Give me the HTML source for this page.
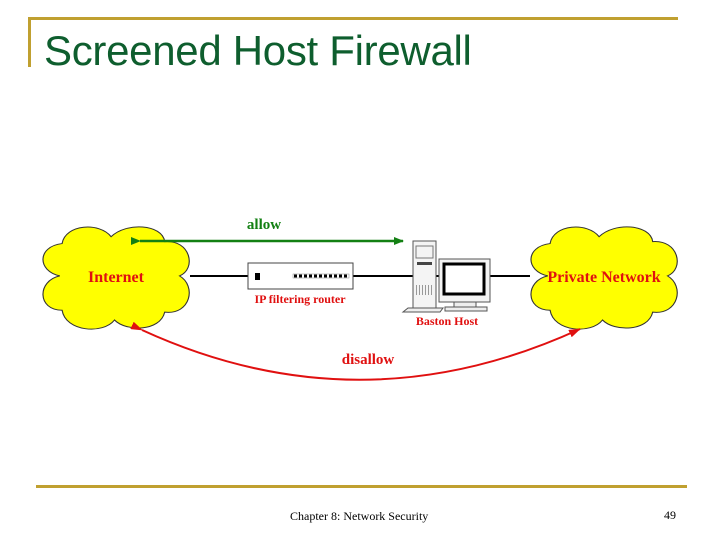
<!DOCTYPE html>
<html><head><style>
body{margin:0;width:720px;height:540px;background:#fff;position:relative;overflow:hidden;font-family:"Liberation Sans",sans-serif}
</style></head><body>
<div style="position:absolute;left:28px;top:17px;width:650px;height:3px;background:#c0a030"></div>
<div style="position:absolute;left:28px;top:17px;width:3px;height:50px;background:#c0a030"></div>
<div style="position:absolute;left:44px;top:27px;font-size:42px;color:#0e5e2e;line-height:48px;letter-spacing:-0.3px">Screened Host Firewall</div>
<div style="position:absolute;left:36px;top:485px;width:651px;height:3px;background:#c0a030"></div>
<div style="position:absolute;left:290px;top:509px;font-family:'Liberation Serif',serif;font-size:12px">Chapter 8: Network Security</div>
<div style="position:absolute;left:664px;top:508px;font-family:'Liberation Serif',serif;font-size:12px">49</div>
<svg width="720" height="540" style="position:absolute;left:0;top:0">
<defs>
<g id="cloud"><path d="M20,55 C0,50 0,25 22,22 C25,2 55,0 65,15 C78,0 110,2 112,20 C135,18 140,48 125,55 C140,65 135,95 112,92 C108,112 78,112 68,100 C58,115 25,112 22,90 C0,90 0,60 20,55 Z" fill="#ffff00" stroke="#333" stroke-width="1"/></g>
<marker id="ga" markerWidth="10" markerHeight="8" refX="9" refY="4" orient="auto" markerUnits="userSpaceOnUse"><path d="M0,0 L10,4 L0,8Z" fill="#138013"/></marker>
<marker id="ra" markerWidth="12" markerHeight="8" refX="11" refY="4" orient="auto" markerUnits="userSpaceOnUse"><path d="M0,0 L12,4 L0,8Z" fill="#e01010"/></marker>
</defs>
<line x1="190" y1="276" x2="530" y2="276" stroke="#000" stroke-width="2"/>
<g transform="translate(37,222) scale(1.14,0.98)"><use href="#cloud"/></g>
<g transform="translate(525,222) scale(1.14,0.98)"><use href="#cloud"/></g>
<line x1="140" y1="241" x2="403" y2="241" stroke="#138013" stroke-width="2.5" marker-start="url(#ga)" marker-end="url(#ga)"/>
<path d="M142,330 Q360,430 580,329" fill="none" stroke="#e01010" stroke-width="2" marker-start="url(#ra)" marker-end="url(#ra)"/>
<rect x="248" y="263" width="105" height="26" fill="#fff" stroke="#444"/>
<rect x="255" y="273" width="5" height="7" fill="#000"/>
<rect x="293" y="274" width="56" height="4" fill="#fff" stroke="#888" stroke-width="0.5"/>
<line x1="294" y1="276" x2="348" y2="276" stroke="#000" stroke-width="3" stroke-dasharray="3,2"/>
<rect x="413" y="241" width="23" height="70" fill="#f4f4f4" stroke="#555"/>
<rect x="416" y="246" width="17" height="12" fill="none" stroke="#777"/>
<rect x="417" y="262" width="15" height="3" fill="#444"/>
<line x1="416" y1="290" x2="433" y2="290" stroke="#999" stroke-width="10" stroke-dasharray="1,2"/>
<path d="M403,312 L440,312 L443,308 L408,308Z" fill="#eee" stroke="#555"/>
<rect x="439" y="259" width="51" height="43" fill="#f4f4f4" stroke="#555"/>
<rect x="444" y="264" width="40" height="30" fill="#fff" stroke="#000" stroke-width="3"/>
<rect x="454" y="302" width="22" height="5" fill="#eee" stroke="#555"/>
<rect x="445" y="307" width="42" height="4" fill="#eee" stroke="#555"/>
<g font-family="Liberation Serif,serif" font-weight="bold">
<text x="116" y="282" font-size="16" fill="#e01010" text-anchor="middle">Internet</text>
<text x="604" y="282" font-size="16" fill="#e01010" text-anchor="middle">Private Network</text>
<text x="264" y="229" font-size="15" fill="#138013" text-anchor="middle">allow</text>
<text x="368" y="364" font-size="15" fill="#e01010" text-anchor="middle">disallow</text>
<text x="300" y="303" font-size="12" fill="#e01010" text-anchor="middle">IP filtering router</text>
<text x="447" y="325" font-size="12" fill="#e01010" text-anchor="middle">Baston Host</text>
</g>
</svg>
</body></html>
